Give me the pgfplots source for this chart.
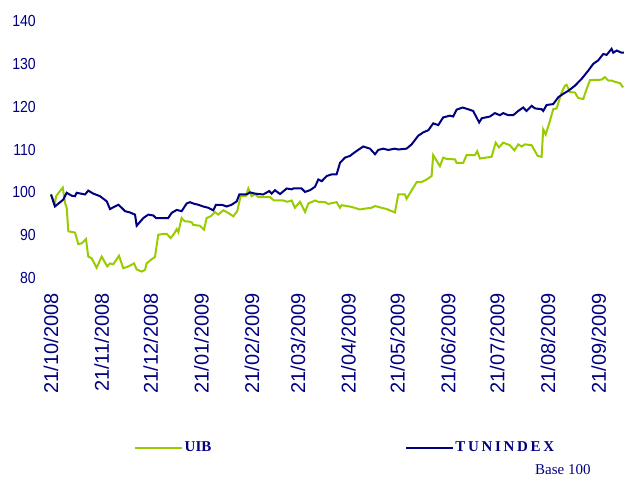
\documentclass[border=0pt]{standalone}
\usepackage{fontspec}
\setmainfont{Liberation Sans}
\newfontfamily\ticknarrow{Liberation Sans}[FakeStretch=0.88]
\newfontfamily\serifb{Liberation Serif}
\newfontfamily\serifls{Liberation Serif}[LetterSpace=18]
\usepackage{pgfplots}
\pgfplotsset{compat=1.18}
\definecolor{navy}{RGB}{0,0,128}
\definecolor{uibgreen}{RGB}{153,204,0}
\begin{document}
\begin{tikzpicture}
\path[use as bounding box] (-51bp,-200bp) rectangle (573bp,278bp);
\begin{axis}[
  at={(0,0)}, anchor=south west,
  scale only axis, width=573bp, height=257bp,
  xmin=0, xmax=350.5, ymin=80, ymax=140,
  axis line style={draw=none},
  major tick length=0pt,
  clip=false,
  ytick={80,90,...,140},
  xtick={0,31,61,92,123,151,182,212,243,273,304,335},
  xticklabels={21/10/2008,21/11/2008,21/12/2008,21/01/2009,21/02/2009,21/03/2009,21/04/2009,21/05/2009,21/06/2009,21/07/2009,21/08/2009,21/09/2009},
  /pgf/number format/assume math mode=true,
  yticklabel style={font=\ticknarrow\fontsize{16bp}{16bp}\selectfont, text=navy, inner sep=0pt, anchor=east, xshift=-15bp},
  xticklabel style={font=\fontsize{20bp}{20bp}\selectfont, text=navy, inner sep=0pt, yshift=-15bp, rotate=90, anchor=east},
  legend columns=2,
  legend style={draw=none, fill=none, at={(0,0)}, anchor=west, xshift=83bp, yshift=-169.7bp,
     inner sep=0pt, font=\serifb\bfseries\fontsize{15bp}{15bp}\selectfont, text=navy,
     nodes={inner sep=1.5bp},
     /tikz/every even column/.append style={column sep=192bp}},
  legend image code/.code={\draw[#1] (0bp,0bp) -- (47bp,0bp);},
]
\addplot[uibgreen, line width=2bp] coordinates {
(0,99.5)(2.4,97.4)(3.1,99.1)(5.5,100.3)(7.2,101.1)(8.6,97.5)(9.6,96.4)(10.6,90.9)(13.6,90.7)(14.7,90.6)
(16.7,87.9)(18.8,88.1)(21.4,89.1)(22.8,85.0)(24.9,84.6)(27.9,82.4)(31,85.0)(34.4,82.7)(36.1,83.4)(38.1,83.2)
(41.6,85.2)(44.2,82.3)(47.3,82.7)(50.8,83.4)(52.4,82.0)(55.5,81.5)(57.5,81.9)(58.5,83.4)(61.6,84.4)(63.6,84.9)
(65.6,90.1)(68.7,90.3)(70.8,90.3)(73.2,89.3)(75.2,90.3)(76.9,91.4)(77.9,90.7)(79.9,94.0)(81.9,93.2)(84,93.2)
(86.1,93.0)(87,92.4)(91.1,92.2)(93.6,91.3)(95.2,94.0)(97.7,94.4)(100.3,95.4)(102.3,94.8)(105.4,95.8)(108.4,95.2)
(111.5,94.4)(113.9,95.6)(116,99.1)(119.3,99.2)(120.7,100.9)(122.7,99.1)(124.8,99.6)(126.8,98.9)(134,98.9)(136.4,98.1)
(142.1,98.1)(144.5,97.8)(147.2,98.1)(149.2,96.4)(152.3,97.8)(155.4,95.4)(157.4,97.4)(161.5,98.1)(163.5,97.8)(167.6,97.7)
(169.6,97.3)(174.7,97.7)(176.8,96.4)(177.8,97.0)(183.9,96.6)(189,96.0)(192.1,96.2)(196.1,96.4)(198.2,96.8)(201.2,96.5)
(205.3,96.1)(210.4,95.3)(212.4,99.5)(216.5,99.5)(217.5,98.5)(223.7,102.4)(226.7,102.4)(229.8,103.0)(232.8,103.8)(233.8,108.7)
(237.9,106.1)(239.9,108.1)(242,107.8)(247.1,107.7)(248.1,106.9)(252.2,106.9)(254.2,108.7)(259.3,108.7)(260.7,109.6)(262.4,107.9)
(269.5,108.3)(272,111.6)(274,110.5)(276.6,111.6)(280.7,111.0)(283.4,109.8)(285.8,111.2)(287.9,110.7)(289.9,111.2)(294,111.0)
(297.7,108.5)(300.1,108.3)(301.1,114.7)(302.6,113.5)(305.2,116.7)(307.2,119.4)(309.3,119.6)(312.4,123.4)(314.4,124.9)(315.4,125.1)
(317.4,123.4)(320.5,123.3)(322.5,122.0)(325.6,121.8)(327.6,124.1)(329.7,126.2)(336.8,126.3)(338.8,126.9)(340.9,126.1)(342.9,126.1)
(345,125.8)(348,125.5)(350,124.5)
};
\addlegendentry{UIB}
\addplot[navy, line width=2bp] coordinates {
(0,99.5)(2.4,96.7)(7.5,98.3)(9.6,99.9)(12.7,99.2)(14.7,99.1)(15.7,99.9)(20.8,99.5)(22.8,100.4)(25.9,99.7)
(30,99.1)(34.1,97.9)(36.1,96.1)(39.1,96.7)(41.2,97.1)(43.2,96.4)(45.3,95.6)(48.3,95.3)(51.4,94.8)(52.4,92.2)
(56.5,94.0)(59.5,94.8)(62.6,94.6)(64.2,94.0)(71.7,94.0)(73.8,95.2)(76.9,95.9)(79.9,95.6)(83,97.4)(85,97.7)
(87,97.4)(90.1,97.1)(93.1,96.7)(96.2,96.4)(99.3,95.8)(100.9,97.1)(104.4,97.1)(107.5,96.7)(110.5,97.1)(113.6,97.9)
(115.2,99.5)(119.7,99.5)(121.7,100.0)(124.8,99.7)(129.8,99.5)(133.5,100.3)(135,99.7)(137,100.5)(140.1,99.6)(144.2,100.9)
(147.2,100.7)(148.2,100.9)(153.3,100.9)(155.4,100.1)(158.4,100.5)(161.5,101.3)(163.5,103.0)(165.6,102.6)(168.6,103.8)(171.7,104.2)
(174.7,104.2)(176.8,106.9)(179.8,108.1)(182.9,108.5)(184.9,109.1)(189,110.2)(191,110.7)(195.1,110.2)(198.2,108.9)(200.2,109.9)
(203.2,110.2)(206.3,109.9)(210.4,110.2)(212.4,110.0)(217.5,110.2)(220.6,111.2)(224.6,113.2)(227.7,114.0)(230.8,114.5)(233.8,116.1)
(236.9,115.7)(239.9,117.5)(244,117.9)(246,117.7)(248.1,119.3)(251.8,119.8)(255.2,119.4)(258.2,119.0)(260.3,117.5)(261.9,116.3)
(263.5,117.3)(268.5,117.7)(271.5,118.5)(274.6,118.0)(276.6,118.5)(279.7,118.0)(282.7,118.0)(285.8,119.0)(288.8,119.8)(290.9,119.0)
(294,120.2)(296,119.6)(300.1,119.4)(301.1,119.0)(303.2,120.4)(307.2,120.6)(310.3,122.2)(313.3,123.0)(316.4,123.7)(320.5,124.9)
(324.6,126.5)(328.6,128.4)(331.7,130.0)(334.7,130.8)(337.8,132.3)(339.9,132.1)(342.9,133.5)(343.9,132.6)(346,133.1)(349,132.6)(350.5,132.6)
};
\addlegendentry{{\serifls TUNINDEX}}
\end{axis}
\node[anchor=base west, text=navy, font=\serifb\fontsize{15bp}{15bp}\selectfont, inner sep=0pt] at (484bp,-196bp) {Base 100};
\end{tikzpicture}
\end{document}
